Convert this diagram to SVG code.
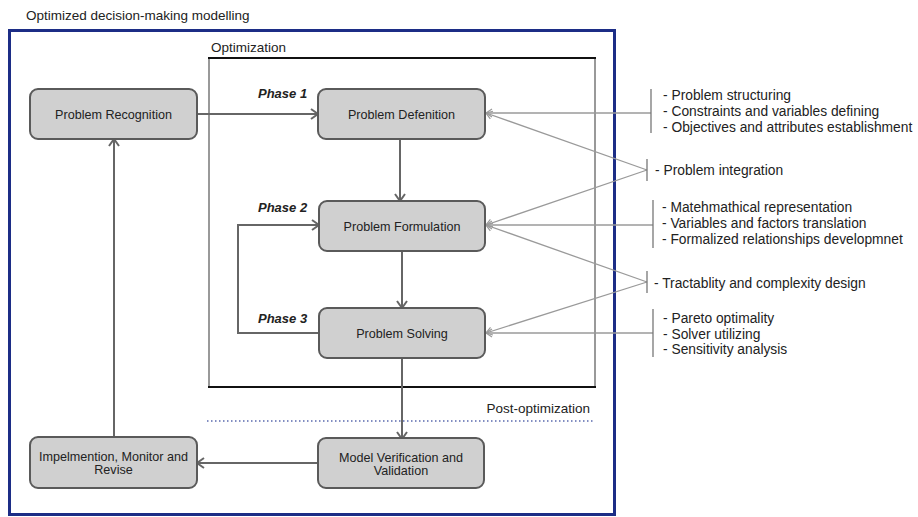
<svg xmlns="http://www.w3.org/2000/svg" width="918" height="517" viewBox="0 0 918 517">
<style>
  .t { font-family: "Liberation Sans", Arial, sans-serif; fill: #222; }
  .title { font-size: 13.5px; }
  .node rect { fill: #d0d0d0; stroke: #5a5a5a; stroke-width: 2; }
  .node text { font-family: "Liberation Sans", Arial, sans-serif; font-size: 12.6px; fill: #222; text-anchor: middle; }
  .phase { font-size: 13px; font-weight: bold; font-style: italic; }
  .flow { fill: none; stroke: #666; stroke-width: 2; }
  .thin { fill: none; stroke: #9a9a9a; stroke-width: 1.3; }
  .br { stroke: #777; stroke-width: 1.3; }
  .side { font-size: 13.8px; }
</style>
<defs>
  <marker id="ah" markerUnits="userSpaceOnUse" markerWidth="12" markerHeight="14" refX="9" refY="6" orient="auto">
    <path d="M2,1 L9,6 L2,11" fill="none" stroke="#666" stroke-width="2"/>
  </marker>
  <marker id="ahs" markerUnits="userSpaceOnUse" markerWidth="10" markerHeight="10" refX="7" refY="5" orient="auto">
    <path d="M1,1 L7,5 L1,9" fill="none" stroke="#9a9a9a" stroke-width="1.2"/>
  </marker>
</defs>
<rect width="918" height="517" fill="#ffffff"/>

<text class="t title" x="26" y="20">Optimized decision-making modelling</text>
<rect x="9.5" y="30.5" width="605" height="484" fill="none" stroke="#1c2d86" stroke-width="3"/>

<g id="optimization-frame">
  <line x1="209" y1="58" x2="209" y2="387" stroke="#777" stroke-width="1.5"/>
  <line x1="595" y1="58" x2="595" y2="387" stroke="#777" stroke-width="1.5"/>
  <line x1="208" y1="58" x2="596" y2="58" stroke="#111" stroke-width="2"/>
  <line x1="208" y1="387" x2="596" y2="387" stroke="#111" stroke-width="2"/>
  <text class="t" x="211" y="52" font-size="13.5">Optimization</text>
</g>
<g id="post-optimization">
  <line x1="207" y1="421" x2="595" y2="421" stroke="#5a6aae" stroke-width="1.3" stroke-dasharray="1.5,2.5"/>
  <text class="t" x="590" y="413" font-size="13.5" text-anchor="end">Post-optimization</text>
</g>

<g id="connectors">
  <path class="flow" d="M197,114 L318,114" marker-end="url(#ah)"/>
  <path class="flow" d="M400,139 L400,201" marker-end="url(#ah)"/>
  <path class="flow" d="M402,251 L402,308" marker-end="url(#ah)"/>
  <path class="flow" d="M402,358 L402,439" marker-end="url(#ah)"/>
  <path class="flow" d="M319,333 L238,333 L238,225 L319,225" marker-end="url(#ah)"/>
  <path class="flow" d="M318,463 L197,463" marker-end="url(#ah)"/>
  <path class="flow" d="M114,437 L114,139" marker-end="url(#ah)"/>

  <path class="thin" d="M651,113 L486,113" marker-end="url(#ahs)"/>
  <path class="thin" d="M647,170 L486,113" marker-end="url(#ahs)"/>
  <path class="thin" d="M647,170 L486,225" marker-end="url(#ahs)"/>
  <path class="thin" d="M653,225 L486,225" marker-end="url(#ahs)"/>
  <path class="thin" d="M647,282 L486,225" marker-end="url(#ahs)"/>
  <path class="thin" d="M647,282 L486,333" marker-end="url(#ahs)"/>
  <path class="thin" d="M653,333 L486,333" marker-end="url(#ahs)"/>
</g>

<text class="t phase" x="258" y="98">Phase 1</text>
<text class="t phase" x="258" y="212">Phase 2</text>
<text class="t phase" x="258" y="323">Phase 3</text>

<g id="node-recognition" class="node">
  <rect x="30" y="89" width="167" height="50" rx="8"/>
  <text x="113.5" y="118.5">Problem Recognition</text>
</g>
<g id="node-definition" class="node">
  <rect x="318" y="89" width="167" height="50" rx="8"/>
  <text x="401.5" y="118.5">Problem Defenition</text>
</g>
<g id="node-formulation" class="node">
  <rect x="319" y="201" width="166" height="50" rx="8"/>
  <text x="402" y="230.5">Problem Formulation</text>
</g>
<g id="node-solving" class="node">
  <rect x="319" y="308" width="166" height="50" rx="8"/>
  <text x="402" y="337.5">Problem Solving</text>
</g>
<g id="node-verification" class="node">
  <rect x="318" y="438" width="166" height="50" rx="8"/>
  <text x="401" y="461.5">Model Verification and</text>
  <text x="401" y="475">Validation</text>
</g>
<g id="node-implementation" class="node">
  <rect x="30" y="437" width="167" height="51" rx="8"/>
  <text x="113.5" y="460.5">Impelmention, Monitor and</text>
  <text x="113.5" y="474">Revise</text>
</g>

<g id="notes-definition">
  <line class="br" x1="651" y1="89" x2="651" y2="133"/>
  <text class="t side" x="663" y="100">- Problem structuring</text>
  <text class="t side" x="663" y="116">- Constraints and variables defining</text>
  <text class="t side" x="663" y="132">- Objectives and attributes establishment</text>
</g>
<g id="notes-integration">
  <line class="br" x1="647" y1="159" x2="647" y2="181"/>
  <text class="t side" x="655" y="175">- Problem integration</text>
</g>
<g id="notes-formulation">
  <line class="br" x1="653" y1="200" x2="653" y2="248"/>
  <text class="t side" x="662" y="212">- Matehmathical representation</text>
  <text class="t side" x="662" y="228">- Variables and factors translation</text>
  <text class="t side" x="662" y="244">- Formalized relationships developmnet</text>
</g>
<g id="notes-tractability">
  <line class="br" x1="647" y1="271" x2="647" y2="293"/>
  <text class="t side" x="654" y="288">- Tractablity and complexity design</text>
</g>
<g id="notes-solving">
  <line class="br" x1="653" y1="309" x2="653" y2="357"/>
  <text class="t side" x="663" y="323">- Pareto optimality</text>
  <text class="t side" x="663" y="339">- Solver utilizing</text>
  <text class="t side" x="663" y="354">- Sensitivity analysis</text>
</g>
</svg>
